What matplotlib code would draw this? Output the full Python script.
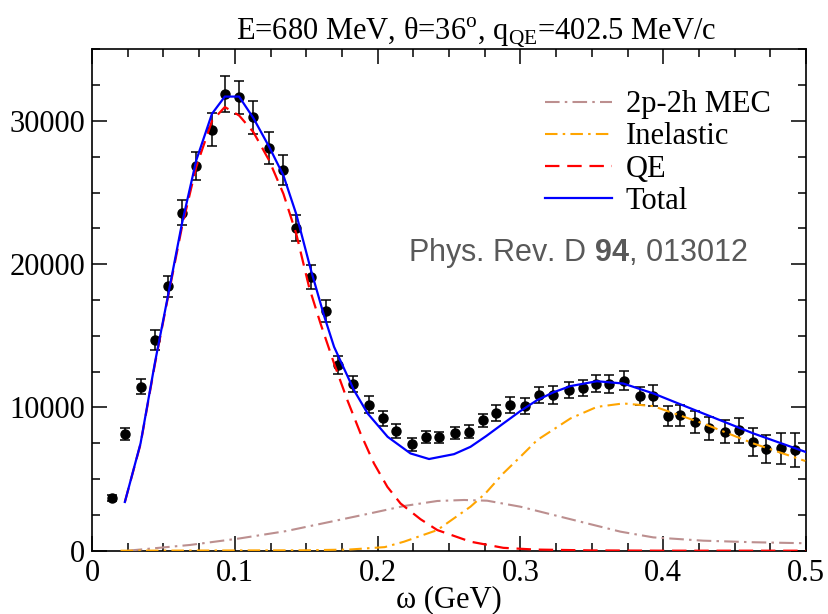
import numpy as np
import matplotlib
matplotlib.use('Agg')
import matplotlib.pyplot as plt
from matplotlib.ticker import MultipleLocator, FixedLocator

plt.rcParams['font.family'] = ['Liberation Serif', 'DejaVu Serif']
plt.rcParams['mathtext.fontset'] = 'custom'
plt.rcParams['mathtext.rm'] = 'Liberation Serif'
plt.rcParams['mathtext.bf'] = 'Liberation Sans:bold'

# datos experimentales (omega en GeV, seccion eficaz)
w_dat = [0.014, 0.023, 0.034, 0.044, 0.053, 0.063, 0.073, 0.084, 0.093, 0.103,
         0.113, 0.124, 0.134, 0.143, 0.153, 0.164, 0.1725, 0.183, 0.194, 0.204,
         0.213, 0.224, 0.234, 0.243, 0.254, 0.264, 0.274, 0.283, 0.293, 0.303,
         0.313, 0.323, 0.334, 0.344, 0.353, 0.362, 0.3725, 0.384, 0.393, 0.403,
         0.412, 0.422, 0.432, 0.443, 0.453, 0.463, 0.472, 0.4825, 0.492]
y_dat = [3700, 8150, 11450, 14700, 18450, 23600, 26850, 29400, 31900, 31650,
         30250, 28100, 26550, 22500, 19100, 16750, 12950, 11650, 10200, 9230,
         8350, 7420, 7950, 7910, 8230, 8300, 9110, 9630, 10160, 10090,
         10860, 10860, 11210, 11370, 11670, 11630, 11860, 10810, 10810, 9420,
         9460, 9000, 8540, 8300, 8420, 7600, 7090, 7140, 7020]
e_dat = [200, 395, 510, 675, 755, 895, 1000, 1160, 1255, 1160,
         1160, 1130, 1045, 905, 815, 755, 630, 570, 605, 500,
         465, 430, 440, 385, 405, 465, 465, 570, 535, 560,
         580, 605, 580, 560, 580, 605, 675, 650, 730, 700,
         730, 770, 790, 815, 870, 965, 965, 1100, 1185]

# curvas teoricas
w_tot = [0.023, 0.034, 0.044, 0.053, 0.063, 0.073, 0.084, 0.093, 0.103, 0.113,
         0.124, 0.134, 0.143, 0.153, 0.1625, 0.1695, 0.1834, 0.193, 0.207, 0.223,
         0.236, 0.2535, 0.265, 0.276, 0.288, 0.300, 0.3117, 0.323, 0.335, 0.3536,
         0.372, 0.393, 0.428, 0.463, 0.4995]
y_tot = [3400, 7500, 13100, 17700, 22850, 27250, 30500, 31700, 31700, 30200,
         28200, 26200, 23500, 19700, 16400, 14230, 11210, 9580, 7950, 6790,
         6400, 6740, 7250, 8000, 8880, 9750, 10510, 11050, 11490, 11830,
         11670, 10980, 9580, 8190, 6900]

w_qe = [0.023, 0.034, 0.044, 0.053, 0.063, 0.073, 0.084, 0.093, 0.103, 0.113,
        0.124, 0.134, 0.143, 0.152, 0.160, 0.1695, 0.1788, 0.188, 0.1974, 0.2068,
        0.216, 0.23, 0.2418, 0.265, 0.288, 0.31, 0.35, 0.40, 0.5]
y_qe = [3400, 7450, 13000, 17600, 22600, 26800, 30000, 30970, 30380, 29220,
        27250, 24920, 22130, 18400, 15860, 13070, 10510, 8190, 6100, 4460,
        3300, 2200, 1440, 630, 200, 80, 20, 0, 0]

w_inel = [0.02, 0.15, 0.18, 0.205, 0.2185, 0.2418, 0.265, 0.2755, 0.288, 0.300,
          0.3117, 0.335, 0.3536, 0.372, 0.393, 0.428, 0.463, 0.4995]
y_inel = [0, 30, 80, 250, 630, 1440, 3070, 4000, 5400, 6560,
          7720, 9230, 10040, 10280, 10090, 8880, 7490, 6260]

w_mec = [0.025, 0.0686, 0.1036, 0.136, 0.167, 0.195, 0.2185, 0.2418, 0.2605, 0.2767,
         0.300, 0.3233, 0.3466, 0.370, 0.393, 0.428, 0.463, 0.4995]
y_mec = [0, 400, 860, 1370, 2020, 2610, 3120, 3470, 3540, 3490,
         3070, 2490, 1910, 1330, 930, 700, 590, 520]

fig = plt.figure(figsize=(8.29, 6.14), dpi=100)
ax = fig.add_axes([0.111, 0.1031, 0.8613, 0.8166])

ax.errorbar(w_dat, y_dat, yerr=e_dat, fmt='o', color='black', ms=6.5,
            elinewidth=1.1, capsize=3.5, capthick=1.1, zorder=2)

ax.plot(w_mec, y_mec, color='#bc8f8f', lw=1.5, dashes=[7, 2.5, 1.2, 2.5],
        label='2p-2h MEC', zorder=3)
ax.plot(w_inel, y_inel, color='#ffa500', lw=1.5, dashes=[6, 2.5, 1.2, 2.5],
        label='Inelastic', zorder=3)
ax.plot(w_qe, y_qe, color='red', lw=1.6, dashes=[6.5, 3.5],
        label='QE', zorder=3)
ax.plot(w_tot, y_tot, color='blue', lw=1.6, label='Total', zorder=4)

ax.set_xlim(0, 0.5)
ax.set_ylim(0, 35000)
ax.xaxis.set_major_locator(FixedLocator([0, 0.1, 0.2, 0.3, 0.4, 0.5]))
ax.set_xticklabels(['0', '0.1', '0.2', '0.3', '0.4', '0.5'])
ax.xaxis.set_minor_locator(MultipleLocator(0.025))
ax.yaxis.set_major_locator(MultipleLocator(10000))
ax.yaxis.set_minor_locator(MultipleLocator(2500))
ax.tick_params(which='both', direction='in', top=True, right=True, width=1.1,
               labelsize=22)
ax.tick_params(which='major', length=11)
ax.tick_params(which='minor', length=5.5)
ax.tick_params(axis='x', pad=6)
ax.tick_params(axis='y', pad=5)
for s in ax.spines.values():
    s.set_linewidth(1.2)

ax.set_xlabel('ω (GeV)', fontsize=22, labelpad=-2)
ax.set_title('E=680 MeV, θ=36$^{\\mathrm{o}}$, q$_{\\mathrm{QE}}$=402.5 MeV/c',
             fontsize=22, x=0.538, pad=7)

ax.legend(loc='upper left', bbox_to_anchor=(0.634, 0.918), frameon=False,
          fontsize=22, handlelength=2.2, handletextpad=0.45, labelspacing=0.1,
          borderaxespad=0, borderpad=0)

ax.text(0.4426, 0.594, 'Phys. Rev. D $\\mathbf{94}$, 013012', transform=ax.transAxes,
        fontsize=22, family='Liberation Sans', color='#595959', ha='left', va='center')

fig.savefig('out.png', dpi=100)
